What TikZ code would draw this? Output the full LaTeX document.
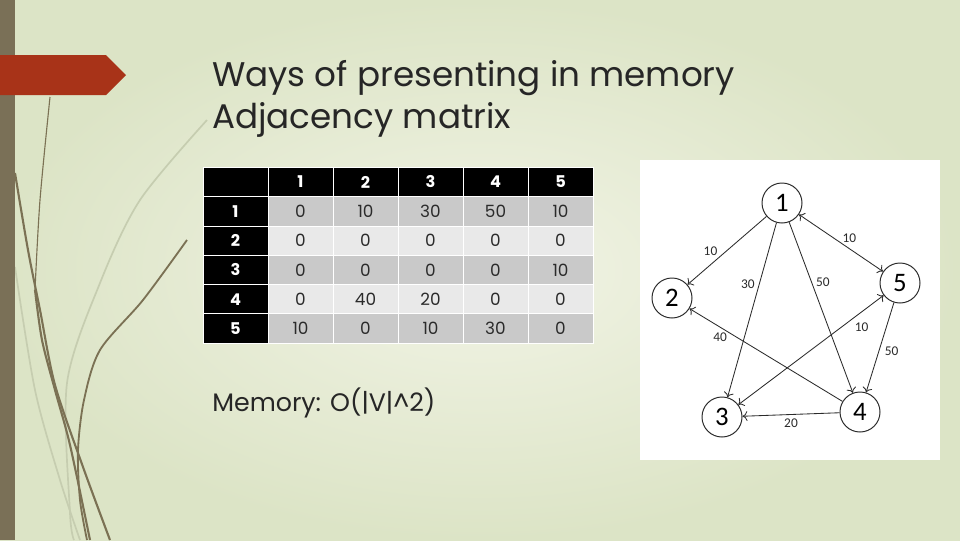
\documentclass[tikz,border=0pt]{standalone}
\usepackage{fontspec}
\setmainfont{Poppins}
\newfontfamily\graphfont{Carlito}
\usetikzlibrary{arrows.meta}
\definecolor{slideBg}{HTML}{DCE4C6}
\definecolor{slideBgC}{HTML}{F2F4E6}
\definecolor{barOl}{HTML}{7A7057}
\definecolor{strandOl}{HTML}{7B7154}
\definecolor{strandLt}{HTML}{C6CDB0}
\definecolor{flagR}{HTML}{A83318}
\definecolor{cellDk}{HTML}{C9C9C9}
\definecolor{cellLt}{HTML}{E9E9E9}
\definecolor{inkG}{HTML}{2B2B2B}
\definecolor{titleG}{HTML}{262626}

\begin{document}
\begin{tikzpicture}[x=0.025cm, y=-0.025cm, >={To[length=3.5pt,width=7pt]},
  hcell/.style={fill=black, draw=white, line width=0.6pt, minimum width=1.625cm,
                minimum height=0.7325cm, inner sep=0pt, text=white,
                font=\fontsize{11.5}{13}\selectfont\bfseries},
  vcell/.style={draw=white, line width=0.6pt, minimum width=1.625cm,
                minimum height=0.7325cm, inner sep=0pt, text=inkG,
                font=\fontsize{12}{13}\selectfont},
  vert/.style={circle, draw=inkG, fill=white, line width=0.7pt, minimum size=1cm,
               inner sep=0pt, font=\graphfont\fontsize{19}{19}\selectfont},
  edge/.style={draw=inkG, line width=0.6pt, ->},
  wlab/.style={font=\graphfont\fontsize{9.5}{9.5}\selectfont, text=inkG, inner sep=1pt}]
  \useasboundingbox (0,0) rectangle (960,540);
  % slide background
  \shade[inner color=slideBgC, outer color=slideBg] (0,0) rectangle (960,540);
  % grass strands
  \draw[strandLt, line width=1.2pt] plot[smooth] coordinates {(207,120) (140,200) (100,283) (67,383) (70,513) (74,540)};
  \draw[strandLt, line width=1.2pt] plot[smooth] coordinates {(15,267) (35,390) (60,480) (80,540)};
  \draw[strandOl, line width=0.8pt] plot[smooth] coordinates {(50,97) (40,200) (35,290)};
  \draw[strandOl, line width=1.5pt] plot[smooth] coordinates {(35,290) (42,340) (55,390) (70,445) (90,540)};
  \draw[strandOl, line width=1.5pt] plot[smooth] coordinates {(15,173) (28,250) (40,310) (55,385) (83,467) (110,540)};
  \draw[strandOl, line width=1.3pt] plot[smooth] coordinates {(187,240) (143,300) (100,350) (84,400) (78,450) (80,500) (87,540)};
  % side bar and flag
  \fill[barOl] (0,0) rectangle (15,540);
  \fill[flagR] (0,55) -- (106,55) -- (126,75) -- (106,95) -- (0,95) -- cycle;
  % title
  \node[anchor=base west, text=titleG, font=\fontsize{24.3}{30}\selectfont, inner sep=0pt]
    (title1) at (212,86) {Ways of presenting in memory};
  \node[anchor=base west, text=titleG, font=\fontsize{24.3}{30}\selectfont, inner sep=0pt]
    (title2) at (212,128) {Adjacency matrix};
  % adjacency matrix
  \node[hcell] (h0) at (235.5,182) {};
  \foreach \j in {1,...,5}
    \node[hcell] (h\j) at (235.5+65*\j,182) {\j};
  \foreach \vals [count=\i] in {{0,10,30,50,10},{0,0,0,0,0},{0,0,0,0,10},{0,40,20,0,0},{10,0,10,30,0}}{
    \ifodd\i\def\rowfill{cellDk}\else\def\rowfill{cellLt}\fi
    \node[hcell] (r\i) at (235.5,182+29.3*\i) {\i};
    \foreach \v [count=\j] in \vals
      \node[vcell, fill=\rowfill] (c\i\j) at (235.5+65*\j,182+29.3*\i) {\v};
  }
  \node[anchor=base west, text=titleG, font=\fontsize{18}{20}\selectfont, inner sep=0pt]
    (mem) at (212,411) {Memory: O(|V|\textasciicircum2)};
  % graph picture
  \fill[white] (640,160) rectangle (940,460);
  \node[vert] (v1) at (782,203) {1};
  \node[vert] (v2) at (672,298) {2};
  \node[vert] (v3) at (722,417) {3};
  \node[vert] (v4) at (860,412) {4};
  \node[vert] (v5) at (900,283) {5};
  \draw[edge] (v1) -- node[wlab, pos=.6, above left] {10} (v2);
  \draw[edge] (v1) -- node[wlab, pos=.35, left=2pt] {30} (v3);
  \draw[edge] (v1) -- node[wlab, pos=.35, right=2pt] {50} (v4);
  \draw[edge, <->] (v1) -- node[wlab, pos=.6, above=3pt] {10} (v5);
  \draw[edge] (v4) -- node[wlab, pos=.8, below=3pt] {40} (v2);
  \draw[edge, <->] (v5) -- node[wlab, pos=.22, below right=1pt] {10} (v3);
  \draw[edge] (v5) -- node[wlab, pos=.54, right=3pt] {50} (v4);
  \draw[edge] (v4) -- node[wlab, pos=.5, below=2pt] {20} (v3);
\end{tikzpicture}
\end{document}
